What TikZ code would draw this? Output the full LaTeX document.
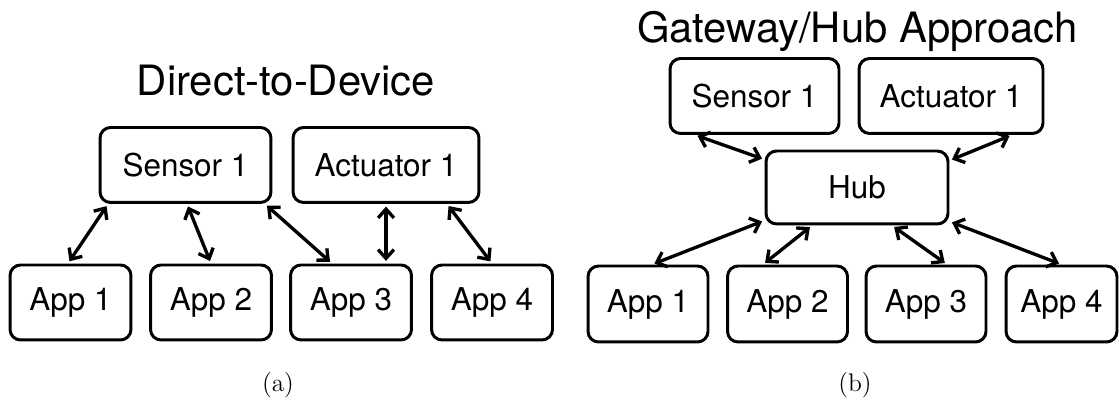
\documentclass[tikz,border=0pt]{standalone}
\usepackage{fontspec}
\newfontfamily\helv{TeX Gyre Heros}
\usetikzlibrary{arrows.meta,calc}
\tikzset{devbox/.style={draw=black, line width=1.7pt, rounded corners=6pt, minimum width=#1, minimum height=1.5cm, inner sep=0pt, font=\helv\fontsize{17.9}{20}\selectfont},
	devbox/.default={2.42cm},
	link/.style={<->, >={Straight Barb[length=5pt,width=9pt]}, line width=1.9pt, shorten <=1.5pt, shorten >=1.5pt},
	headline/.style={anchor=base, font=\helv\fontsize{23.8}{26}\selectfont},
	subcap/.style={font=\fontsize{14.5}{16}\selectfont}}

\begin{document}
\begin{tikzpicture}[x=0.02cm,y=-0.02cm]
		\useasboundingbox (0,0) rectangle (1119,404); %fixes the page
		% (a) direct-to-device
		\node[headline] (titlea) at (286,96) {Direct-to-Device};
		\node[devbox=3.42cm] (sens) at (185.5,165) {Sensor 1};
		\node[devbox=3.72cm] (act) at (386,165) {Actuator 1};
		\foreach \i/\x in {1/70.5,2/211,3/351,4/492}
		\node[devbox] (app\i) at (\x,302.5) {App \i}; %one box per app
		\draw[link] ($(sens.south)+(-77.5,0)$) -- ($(app1.north)+(-2.5,0)$);
		\draw[link] ($(sens.south)+(1.5,0)$) -- (app2.north);
		\draw[link] ($(sens.south)+(79.5,0)$) -- ($(app3.north)+(-19,0)$);
		\draw[link] (act.south) -- ($(app3.north)+(35,0)$);
		\draw[link] ($(act.south)+(61,0)$) -- (app4.north);
		\node[subcap] (capa) at (278,385) {(a)};
		% (b) gateway/hub
		\node[headline] (titleb) at (857.5,43) {Gateway/Hub Approach};
		\node[devbox=3.38cm] (hsens) at (754.5,96) {Sensor 1};
		\node[devbox=3.68cm] (hact) at (951,96) {Actuator 1};
		\node[devbox=3.64cm, minimum height=1.46cm] (hub) at (857,187.5) {Hub};
		\foreach \i/\x/\w in {1/648/2.40,2/787.5/2.40,3/926/2.40,4/1061.5/2.22}
		\node[devbox=\w cm, minimum height=1.52cm] (happ\i) at (\x,304) {App \i}; %apps below the hub
		\draw[link] ($(hsens.south)+(-59.5,0)$) -- ($(hub.north west)+(0,10)$);
		\draw[link] ($(hact.south)+(61,0)$) -- ($(hub.north east)+(0,11)$);
		\draw[link] ($(hub.south west)+(0,-5)$) -- ($(happ1.north)+(4,0)$);
		\draw[link] ($(hub.south)+(-45,0)$) -- ($(happ2.north)+(-24.5,0)$);
		\draw[link] ($(hub.south)+(35,0)$) -- ($(happ3.north)+(21,0)$);
		\draw[link] ($(hub.south east)+(0,-4)$) -- (happ4.north);
		\node[subcap] (capb) at (855,385) {(b)};
	\end{tikzpicture}
\end{document}
